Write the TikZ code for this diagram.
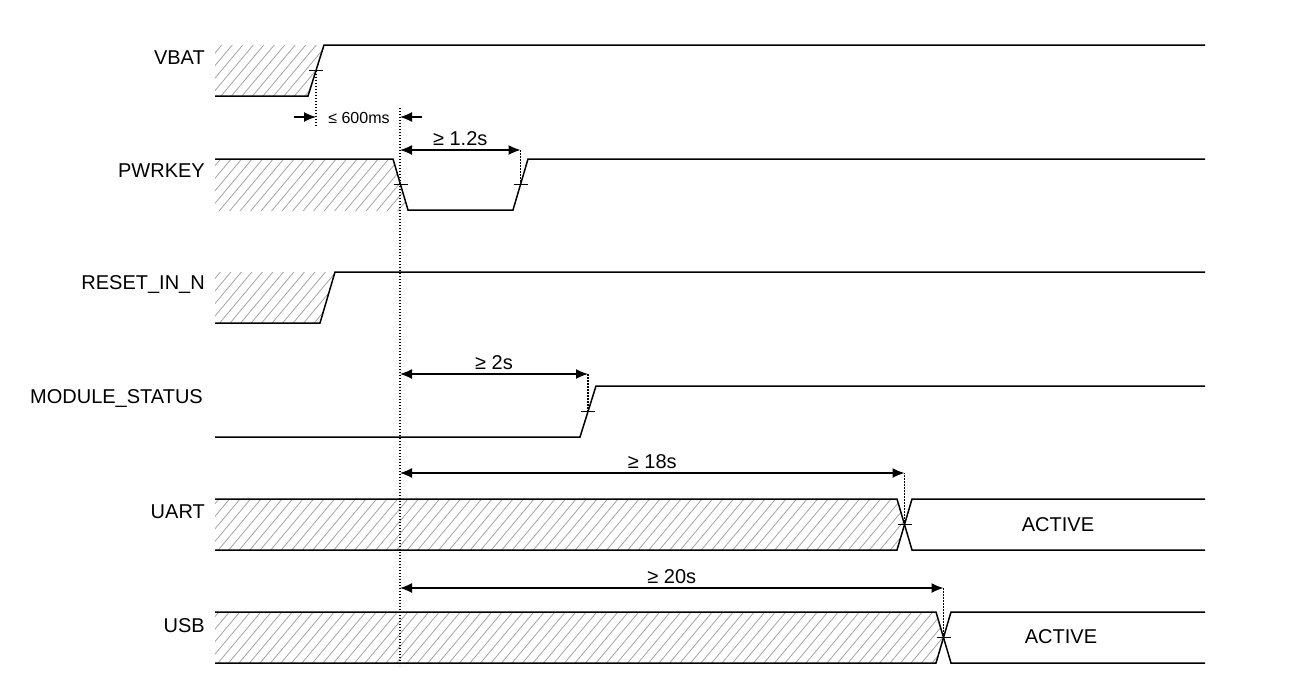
\documentclass[tikz,border=0pt]{standalone}
\usepackage{fontspec}
\setmainfont{Liberation Sans}
\usepackage{tikz}
\usetikzlibrary{arrows.meta}
\definecolor{hatchgray}{RGB}{165,165,165}

\begin{document}
\begin{tikzpicture}[x=1pt, y=-1pt, >={Latex[length=12pt,width=10pt]},
  every node/.style={font=\fontsize{20}{24}\selectfont},
  siglabel/.style={anchor=east,inner sep=0pt},
  sig/.style={line width=1.5pt},
  hatchline/.style={line width=0.8pt,hatchgray},
  guide/.style={line width=1.1pt,dash pattern=on 1.1pt off 1.9pt},
  tickmark/.style={line width=1.3pt},
  dimline/.style={line width=1.3pt}]
\useasboundingbox (0,0) rectangle (1309,699);
\node[siglabel] (vbatlbl) at (205,58) {VBAT};
\node[siglabel] (pwrlbl) at (205,171) {PWRKEY};
\node[siglabel] (rstlbl) at (205,285) {RESET\_IN\_N};
\node[siglabel] (statlbl) at (203,398) {MODULE\_STATUS};
\node[siglabel] (uartlbl) at (205,512) {UART};
\node[siglabel] (usblbl) at (205,626) {USB};
% hatched (undefined) regions
\begin{scope}
\clip (215,45) -- (324,45) -- (308,96) -- (215,96) -- cycle
      (215,159) -- (393,159) -- (408,211) -- (215,211) -- cycle
      (215,272) -- (335,272) -- (320,323) -- (215,323) -- cycle
      (215,499) -- (897,499) -- (904.5,524.5) -- (897,550) -- (215,550) -- cycle
      (215,612) -- (936,612) -- (943.5,637.5) -- (936,663) -- (215,663) -- cycle;
\foreach \x in {-380,-369.5,...,960}
  \draw[hatchline] (\x,700) -- ++(587,-700);
\end{scope}
% VBAT
\draw[sig] (215,96) -- (308,96) -- (324,45) -- (1205,45);
\coordinate (vbatmid) at (316,70.5);
\draw[tickmark] (vbatmid) ++(-7,0) -- ++(14,0);
% PWRKEY
\draw[sig] (215,159) -- (393,159) -- (408,210) -- (513,210) -- (528,159) -- (1205,159);
\coordinate (pwrfall) at (400.5,184.5);
\coordinate (pwrrise) at (520.5,184.5);
\draw[tickmark] (pwrfall) ++(-7,0) -- ++(14,0);
\draw[tickmark] (pwrrise) ++(-7,0) -- ++(14,0);
% RESET_IN_N
\draw[sig] (215,323) -- (320,323) -- (335,272) -- (1205,272);
% MODULE_STATUS
\draw[sig] (215,437) -- (580,437) -- (596,386) -- (1205,386);
\coordinate (statmid) at (588,411.5);
\draw[tickmark] (statmid) ++(-7,0) -- ++(14,0);
% UART
\draw[sig] (215,499) -- (897,499) -- (912,550) -- (1205,550);
\draw[sig] (215,550) -- (897,550) -- (912,499) -- (1205,499);
\coordinate (uartmid) at (904.5,524.5);
\draw[tickmark] (uartmid) ++(-7,0) -- ++(14,0);
\node (uartact) at (1058,525) {ACTIVE};
% USB
\draw[sig] (215,612) -- (936,612) -- (951,663) -- (1205,663);
\draw[sig] (215,663) -- (936,663) -- (951,612) -- (1205,612);
\coordinate (usbmid) at (943.5,637.5);
\draw[tickmark] (usbmid) ++(-7,0) -- ++(14,0);
\node (usbact) at (1061,637) {ACTIVE};
% guides
\coordinate (reftop) at (400,108);
\coordinate (refbot) at (400,666);
\draw[guide] (reftop) -- (refbot);
\coordinate (vbatguide) at (316,126);
\draw[guide] (vbatmid) -- (vbatguide);
\coordinate (pwrtop) at (520.5,150);
\coordinate (stattop) at (588,374);
\coordinate (uarttop) at (904.5,473);
\coordinate (usbtop) at (943.5,588);
\draw[guide] (pwrrise) -- (pwrtop);
\draw[guide] (statmid) -- (stattop);
\draw[guide] (uartmid) -- (uarttop);
\draw[guide] (usbmid) -- (usbtop);
% timings
\coordinate (vbatleft) at (294,117);
\coordinate (vbatarr) at (316,117);
\coordinate (refright) at (422,117);
\coordinate (refarr) at (400,117);
\coordinate (pwrref) at (400,150);
\coordinate (statref) at (400,374);
\coordinate (uartref) at (400,473);
\coordinate (usbref) at (400,588);
\draw[dimline,->] (vbatleft) -- (vbatarr);
\draw[dimline,->] (refright) -- (refarr);
\node[font=\fontsize{16}{19}\selectfont] (t600) at (359,118) {≤ 600ms};
\draw[dimline,<->] (pwrref) -- node[above] (t12) {≥ 1.2s} (pwrtop);
\draw[dimline,<->] (statref) -- node[above] (t2) {≥ 2s} (stattop);
\draw[dimline,<->] (uartref) -- node[above] (t18) {≥ 18s} (uarttop);
\draw[dimline,<->] (usbref) -- node[above] (t20) {≥ 20s} (usbtop);
\end{tikzpicture}
\end{document}
